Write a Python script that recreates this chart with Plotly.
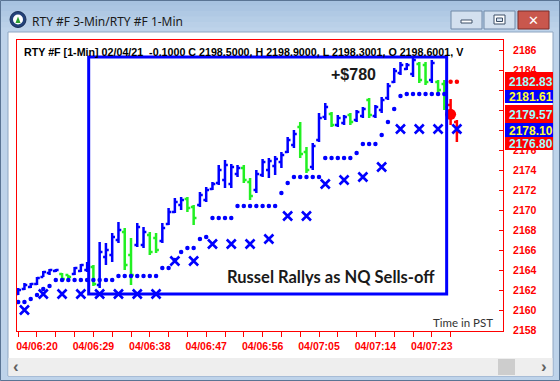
import plotly.graph_objects as go

# ---------------- data ----------------
# 1-minute bars, x = minutes relative to 06:20
bar_minutes = list(range(-3, 66))
bar_open = [2161.6, 2162.1, 2162.3, 2162.6, 2163.3, 2163.7, 2163.9, 2163.6, 2163.5, 2163.6,
            2163.9, 2164.0, 2164.3, 2162.5, 2165.3, 2165.5, 2167.0, 2167.8, 2165.5, 2166.5,
            2166.5, 2167.5, 2167.2, 2166.9, 2168.6, 2169.8, 2170.5, 2171.1, 2170.3, 2170.5,
            2171.0, 2172.1, 2172.7, 2173.0, 2172.6, 2173.6, 2174.2, 2172.8, 2172.0, 2173.5,
            2174.0, 2174.4, 2174.8, 2175.8, 2176.5, 2178.3, 2175.8, 2174.3, 2177.0, 2179.3,
            2179.6, 2178.5, 2178.7, 2179.5, 2179.0, 2179.4, 2181.0, 2179.4, 2180.0, 2181.2,
            2182.8, 2183.7, 2184.1, 2183.6, 2184.6, 2184.5, 2183.0, 2182.8, 2182.6]
bar_high = [2162.2, 2162.7, 2162.7, 2163.3, 2163.9, 2164.1, 2164.1, 2163.7, 2163.5, 2164.3,
            2164.6, 2164.8, 2164.5, 2166.8, 2166.7, 2167.7, 2168.8, 2168.2, 2167.2, 2168.7,
            2168.3, 2167.8, 2167.7, 2168.7, 2170.2, 2171.2, 2171.3, 2171.3, 2170.5, 2171.8,
            2172.3, 2172.8, 2174.5, 2175.0, 2174.6, 2174.5, 2174.5, 2173.2, 2174.0, 2175.1,
            2175.2, 2175.4, 2175.8, 2177.3, 2178.0, 2178.8, 2176.3, 2176.7, 2179.7, 2180.7,
            2179.8, 2179.5, 2179.5, 2179.7, 2180.0, 2180.3, 2181.2, 2180.5, 2181.3, 2182.7,
            2184.2, 2184.8, 2184.7, 2185.3, 2184.8, 2184.8, 2185.0, 2183.0, 2183.0]
bar_low = [2161.5, 2162.0, 2162.2, 2162.5, 2163.3, 2163.5, 2163.8, 2163.0, 2163.2, 2163.5,
           2163.8, 2163.8, 2162.4, 2162.2, 2164.5, 2164.8, 2166.7, 2164.0, 2162.5, 2166.3,
           2166.2, 2165.5, 2165.7, 2166.7, 2168.5, 2169.7, 2170.0, 2169.8, 2168.5, 2170.3,
           2170.8, 2172.0, 2172.5, 2172.2, 2172.2, 2173.3, 2172.7, 2171.0, 2171.7, 2173.3,
           2173.2, 2173.5, 2174.2, 2175.7, 2176.2, 2175.2, 2173.7, 2174.0, 2176.8, 2179.0,
           2178.3, 2178.3, 2178.5, 2178.5, 2178.8, 2179.2, 2179.2, 2179.2, 2179.7, 2181.0,
           2182.7, 2183.5, 2184.0, 2183.3, 2182.7, 2182.5, 2182.7, 2181.7, 2180.0]
bar_close = [2162.0, 2162.5, 2162.6, 2163.2, 2163.8, 2164.0, 2164.0, 2163.1, 2163.3, 2164.2,
             2164.5, 2164.6, 2162.6, 2165.8, 2166.0, 2167.3, 2168.0, 2164.5, 2163.5, 2168.3,
             2167.8, 2165.8, 2166.0, 2168.2, 2169.8, 2170.8, 2171.0, 2170.2, 2169.2, 2171.5,
             2172.0, 2172.6, 2174.0, 2174.5, 2174.3, 2174.2, 2173.0, 2171.4, 2173.6, 2174.8,
             2174.9, 2175.1, 2175.5, 2177.0, 2177.6, 2175.6, 2174.0, 2176.4, 2179.2, 2180.3,
             2178.5, 2179.2, 2179.3, 2178.8, 2179.8, 2180.1, 2179.5, 2180.3, 2181.0, 2182.4,
             2183.9, 2184.5, 2184.5, 2185.0, 2183.0, 2182.8, 2184.7, 2182.0, 2180.3]

# bars after the exit signal (painted red)
signal_minutes = [66, 67]
signal_open = [2180.5, 2178.8]
signal_high = [2181.1, 2179.0]
signal_low = [2178.5, 2176.8]
signal_close = [2179.6, 2177.8]

# 1-min trailing stop dots
stop_minutes = list(range(-3, 66))
stop_values = [2160.8, 2160.8, 2161.1, 2161.5, 2162.1, 2162.4, 2163.0, 2163.0, 2163.0, 2163.0,
               2163.0, 2163.0, 2163.0, 2163.0, 2163.0, 2163.0, 2163.4, 2163.4, 2163.4, 2163.4,
               2163.4, 2163.4, 2163.4, 2164.2, 2164.2, 2165.0, 2165.8, 2166.2, 2166.2, 2167.1,
               2167.3, 2169.2, 2169.2, 2169.2, 2169.2, 2170.4, 2170.4, 2170.4, 2170.4, 2170.4,
               2170.4, 2170.4, 2171.7, 2172.7, 2173.3, 2173.3, 2173.3, 2173.3, 2173.3, 2175.2,
               2175.2, 2175.2, 2175.2, 2175.2, 2175.7, 2176.6, 2176.6, 2176.6, 2177.5, 2178.8,
               2180.1, 2181.4, 2181.61, 2181.61, 2181.61, 2181.61, 2181.61, 2181.61, 2181.61]
short_stop_minutes = [66, 67]
short_stop_values = [2182.837, 2182.837]

# 3-min stop (X markers)
stop3_minutes = list(range(-2, 68, 3))
stop3_values = [2160.0, 2161.6, 2161.6, 2161.6, 2161.6, 2161.6, 2161.6, 2161.6,
                2164.9, 2164.9, 2166.6, 2166.6, 2166.6, 2167.1, 2169.4, 2169.4,
                2172.6, 2173.0, 2173.3, 2174.3, 2178.1, 2178.1, 2178.1, 2178.1]

entry_minutes = [66]
entry_prices = [2179.57]

price_tags = ["2182.83", "2181.61", "2179.57", "2178.10", "2176.80"]

x_tick_minutes = list(range(-3, 67, 3))
x_label_minutes = [0, 9, 18, 27, 36, 45, 54, 63]
x_label_texts = ["04/06:20", "04/06:29", "04/06:38", "04/06:47",
                 "04/06:56", "04/07:05", "04/07:14", "04/07:23"]

y_tick_values = [2158, 2160, 2162, 2164, 2166, 2168, 2170, 2172, 2174, 2176,
                 2178, 2180, 2182, 2184, 2186]
y_hidden_ticks = [2178, 2180, 2182]  # covered by the price tags

header_text = ("RTY #F [1-Min] 02/04/21  -0.1000 C 2198.5000, H 2198.9000, "
               "L 2198.3001, O 2198.6001, V")
window_title = "RTY #F 3-Min/RTY #F 1-Min"

# ---------------- styling / layout ----------------
W, H = 560, 381
PL, PR, PT, PB = 17, 503, 40, 331
BLUE = "#0000FF"
GREEN = "#22F022"
RED = "#FF0000"


def fx(x):
    return (x - PL) / (PR - PL)


def fy(y):
    return (PB - y) / (PB - PT)


shapes = []
annotations = []


def rect(x0, y0, x1, y1, fill, line=None, lw=0, layer="below"):
    shapes.append(dict(type="rect", xref="paper", yref="paper",
                       x0=fx(x0), x1=fx(x1), y0=fy(y1), y1=fy(y0),
                       fillcolor=fill, layer=layer,
                       line=dict(color=line or fill, width=lw)))


def text(x, y, s, size, color, family="Liberation Sans, Arial", xanchor="left",
         weight="normal"):
    annotations.append(dict(xref="paper", yref="paper", x=fx(x), y=fy(y), text=s,
                            showarrow=False, xanchor=xanchor, yanchor="middle",
                            font=dict(size=size, color=color, family=family, weight=weight)))


# window chrome
title_bands = ["#A7C2E0", "#ABC5E2", "#B0C9E4", "#B5CDE6", "#BAD0E8", "#BED3EA"]
for k, c in enumerate(title_bands):
    rect(0, k * 5.5, W, (k + 1) * 5.5 + 0.5, c)
rect(0.5, 0.5, W - 0.5, H - 0.5, "rgba(0,0,0,0)", "#5A7494", 1)
rect(8, 32, 553, 376, "#FFFFFF", "#8FA6C2", 1)
# scrollbar
rect(8.5, 358, 552.5, 376, "#EEEEEE")
rect(498, 359, 515, 375, "#CDCDCD")
text(16, 366.5, "‹", 17, "#606060", xanchor="center", weight="bold")
text(544, 366.5, "›", 17, "#606060", xanchor="center", weight="bold")
# title icon
shapes.append(dict(type="circle", xref="paper", yref="paper", x0=fx(10), x1=fx(26),
                   y0=fy(27.5), y1=fy(11.5), fillcolor="#24427A", line=dict(color="#1A2F57", width=1)))
shapes.append(dict(type="circle", xref="paper", yref="paper", x0=fx(13), x1=fx(23),
                   y0=fy(24.5), y1=fy(14.5), fillcolor="#FFFFFF", line=dict(width=0)))
shapes.append(dict(type="path", xref="paper", yref="paper",
                   path="M {} {} L {} {} L {} {} Z".format(fx(15.5), fy(23), fx(20.5), fy(23), fx(18), fy(16.5)),
                   fillcolor="#2DA02D", line=dict(width=0)))
text(30, 21.5, window_title, 12, "#1A1A1A", family="Noto Sans")
# window buttons
rect(451, 11, 482, 29, "#D3E0EF", "#7189A8", 1)
rect(484, 11, 515, 29, "#D3E0EF", "#7189A8", 1)
rect(518, 11, 549, 29, "#C9574D", "#7D2C28", 1)
rect(461, 20, 472, 23, "#FFFFFF", "#3C4E66", 1)
rect(494, 15, 505, 24, "#FFFFFF", "#3C4E66", 1)
rect(496.5, 18, 502.5, 21.5, "#D3E0EF", "#3C4E66", 1)
text(533.5, 20.5, "✕", 13, "#FFFFFF", family="DejaVu Sans", xanchor="center", weight="bold")

# price tag boxes on the right scale
tag_boxes = [(72, 90, RED, "#9FFFFF"), (90, 103, BLUE, "#FFFF33"), (105, 123, RED, "#9FFFFF"),
             (123, 137, BLUE, "#FFFF33"), (137, 150, RED, "#9FFFFF")]
for (y0, y1, bg, fg), s in zip(tag_boxes, price_tags):
    rect(505, y0, 553, y1, bg, layer="above")
    text(507, (y0 + y1) / 2 + 0.5, s, 12, fg, weight="bold")

# chart texts
text(22, 52.5, header_text, 10.7, "#000000", weight="bold")
text(353.5, 74, "+$780", 16, "#1A1A1A", weight="bold", xanchor="center")
text(330.5, 277, "Russel Rallys as NQ Sells-off", 16.5, "#1A1A1A", family="Lato",
     weight="bold", xanchor="center")
text(495, 322, "Time in PST", 11.5, "#333333", family="Lato", xanchor="right")

# highlighted rectangle drawn on the chart (data-anchored)
box_x = (8.25, 65.37)
box_y = (2161.6, 2185.3)
shapes.append(dict(type="rect", xref="x", yref="y", x0=box_x[0], x1=box_x[1],
                   y0=box_y[0], y1=box_y[1], line=dict(color=BLUE, width=3),
                   fillcolor="rgba(0,0,0,0)", layer="above"))

fig = go.Figure()
fig.add_trace(go.Scatter(x=stop_minutes, y=stop_values, mode="markers",
                         marker=dict(color=BLUE, size=4.5), hoverinfo="skip"))
fig.add_trace(go.Scatter(x=short_stop_minutes, y=short_stop_values, mode="markers",
                         marker=dict(color=RED, size=4.5), hoverinfo="skip"))
fig.add_trace(go.Scatter(x=stop3_minutes, y=stop3_values, mode="markers",
                         marker=dict(symbol="x-thin", size=9, color=BLUE,
                                     line=dict(color=BLUE, width=2.6)), hoverinfo="skip"))
fig.add_trace(go.Ohlc(x=bar_minutes, open=bar_open, high=bar_high, low=bar_low, close=bar_close,
                      increasing=dict(line=dict(color=BLUE, width=2.5)),
                      decreasing=dict(line=dict(color=GREEN, width=2.5)),
                      tickwidth=0.45))
fig.add_trace(go.Ohlc(x=signal_minutes, open=signal_open, high=signal_high, low=signal_low,
                      close=signal_close,
                      increasing=dict(line=dict(color=RED, width=2.5)),
                      decreasing=dict(line=dict(color=RED, width=2.5)),
                      tickwidth=0.45))
fig.add_trace(go.Scatter(x=entry_minutes, y=entry_prices, mode="markers",
                         marker=dict(color=RED, size=11), hoverinfo="skip"))

x_tick_text = [x_label_texts[x_label_minutes.index(m)] if m in x_label_minutes else ""
               for m in x_tick_minutes]
y_tick_text = ["" if v in y_hidden_ticks else str(v) for v in y_tick_values]

fig.update_layout(
    width=W, height=H,
    margin=dict(l=PL, r=W - PR, t=PT, b=H - PB, pad=0),
    paper_bgcolor="#BED3EA", plot_bgcolor="#FFFFFF",
    showlegend=False,
    shapes=shapes, annotations=annotations,
    xaxis=dict(range=[-3.19, 74.36], showgrid=False, zeroline=False,
               showline=True, mirror=True, linecolor=RED, linewidth=1,
               tickmode="array", tickvals=x_tick_minutes, ticktext=x_tick_text,
               ticks="outside", ticklen=5, tickcolor=RED, tickwidth=1,
               tickfont=dict(family="Liberation Sans, Arial", size=10.5, color=RED, weight="bold"),
               rangeslider=dict(visible=False), automargin=False, fixedrange=True),
    yaxis=dict(range=[2157.9, 2187.0], side="right", showgrid=False, zeroline=False,
               showline=True, mirror=True, linecolor=RED, linewidth=1,
               tickmode="array", tickvals=y_tick_values, ticktext=y_tick_text,
               ticks="inside", ticklen=4, tickcolor=RED,
               ticklabelstandoff=7,
               tickfont=dict(family="Liberation Sans, Arial", size=10.5, color=RED, weight="bold"),
               automargin=False, fixedrange=True),
)

fig.write_html("out.html", config={"displayModeBar": False},
               post_script="document.body.style.margin='0';document.body.style.overflow='hidden';")
